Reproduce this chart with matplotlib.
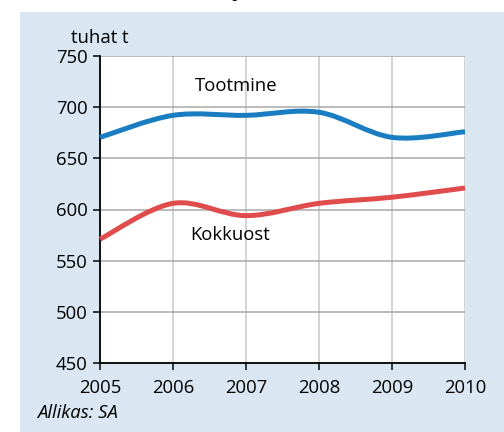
import matplotlib
matplotlib.use("Agg")
import matplotlib.pyplot as plt
import numpy as np
from matplotlib.path import Path
from matplotlib.patches import PathPatch

years = [2005, 2006, 2007, 2008, 2009, 2010]
tootmine = [670.5, 692, 692, 695, 670.5, 676]
kokkuost = [571, 606, 594, 606, 612, 621]
yticks = [450, 500, 550, 600, 650, 700, 750]

plt.rcParams['font.family'] = ['Open Sans', 'DejaVu Sans']
FS = 18.5

fig = plt.figure(figsize=(7, 6), dpi=72)
fig.patch.set_facecolor('white')
# light blue panel
fig.patches.append(plt.Rectangle((20/504, 0), 484/504, 1 - 12/432, transform=fig.transFigure,
                                 facecolor='#dae6f1', edgecolor='none', zorder=-5))

ax = fig.add_axes([100/504, 1 - 363/432, 365/504, (363 - 56)/432])
ax.set_zorder(2)
ax.set_facecolor('white')
ax.set_xlim(2005, 2010)
ax.set_ylim(450, 750)
ax.set_yticks(yticks)
ax.set_xticks(years)
ax.tick_params(axis='both', direction='out', length=7, width=1.5, labelsize=FS, color='black')
ax.tick_params(axis='x', pad=9)
ax.tick_params(axis='y', pad=5)
ax.yaxis.grid(True, color='#a6a6a6', linewidth=1.5)
ax.xaxis.grid(True, color='#c8c8c8', linewidth=1.5)
ax.set_axisbelow(True)
for s in ['top', 'right']:
    ax.spines[s].set_visible(False)
for s in ['left', 'bottom']:
    ax.spines[s].set_linewidth(1.8)
    ax.spines[s].set_color('black')


def smooth_path(x, y):
    x = np.asarray(x, float)
    y = np.asarray(y, float)
    n = len(x)
    verts = [(x[0], y[0])]
    codes = [Path.MOVETO]
    for i in range(n - 1):
        x0, y0 = (x[i - 1], y[i - 1]) if i > 0 else (x[i], y[i])
        x3, y3 = (x[i + 2], y[i + 2]) if i + 2 < n else (x[i + 1], y[i + 1])
        c1 = (x[i] + (x[i + 1] - x0) / 6, y[i] + (y[i + 1] - y0) / 6)
        c2 = (x[i + 1] - (x3 - x[i]) / 6, y[i + 1] - (y3 - y[i]) / 6)
        verts += [c1, c2, (x[i + 1], y[i + 1])]
        codes += [Path.CURVE4] * 3
    return Path(verts, codes)


for vals, col in [(tootmine, '#1b7dc1'), (kokkuost, '#e04b4b')]:
    p = PathPatch(smooth_path(years, vals), facecolor='none', edgecolor=col,
                  linewidth=5, capstyle='butt', zorder=3, clip_on=False)
    ax.add_patch(p)

ax.text(2006.86, 721, 'Tootmine', fontsize=FS, ha='center', va='center')
ax.text(2006.78, 575, 'Kokkuost', fontsize=FS, ha='center', va='center')

fig.text(100/504, 1 - 38/432, 'tuhat t', fontsize=FS, ha='center', va='center')
fig.text(37/504, 1 - 413/432, 'Allikas: SA', fontsize=FS, ha='left', va='center', style='italic')
fig.text(238/504, 1 + 4/432, 'y', fontsize=22, fontweight='bold', ha='center', va='baseline')

fig.savefig('out.png', dpi=72, facecolor=fig.get_facecolor())
